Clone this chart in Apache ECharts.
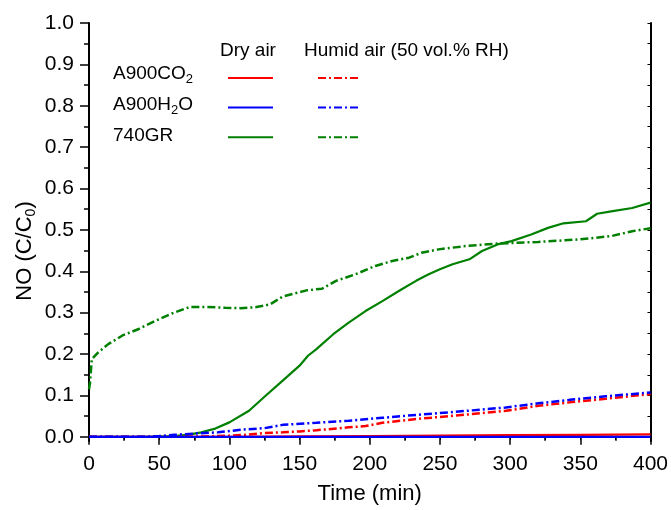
<!DOCTYPE html>
<html>
<head>
<meta charset="utf-8">
<script src="https://cdn.jsdelivr.net/npm/echarts@6/dist/echarts.min.js"></script>
<style>
  html, body { margin: 0; padding: 0; background: #fff; }
  #chart { width: 671px; height: 510px; }
</style>
</head>
<body>
<div id="chart"></div>
<script>
// 数据：时间 (min) 和 NO (C/C0)
var greenDryT = [0, 40, 60, 70, 80, 90, 100, 114, 126, 138, 150, 156, 162, 174, 185, 197, 209, 221, 233, 242, 250, 259, 271, 280, 291, 301, 315, 327, 338, 354, 362, 372, 387, 400];
var greenDryV = [0, 0, 0.002, 0.005, 0.011, 0.02, 0.035, 0.063, 0.100, 0.136, 0.172, 0.196, 0.212, 0.248, 0.276, 0.304, 0.328, 0.353, 0.377, 0.393, 0.405, 0.417, 0.429, 0.449, 0.465, 0.473, 0.489, 0.505, 0.516, 0.521, 0.539, 0.545, 0.553, 0.566];

var greenHumidT = [0, 0.7, 2, 6.6, 13.7, 24.4, 35, 47, 59, 72, 82, 97, 108, 118, 123, 129, 138, 155, 166, 176, 190, 204, 216, 228, 237, 249, 268, 291, 320, 349, 372, 387, 400];
var greenHumidV = [0.115, 0.13, 0.188, 0.204, 0.224, 0.246, 0.260, 0.280, 0.298, 0.314, 0.314, 0.312, 0.311, 0.313, 0.316, 0.320, 0.339, 0.354, 0.358, 0.377, 0.393, 0.413, 0.425, 0.433, 0.445, 0.453, 0.461, 0.467, 0.471, 0.477, 0.485, 0.497, 0.504];

var blueHumidT = [0, 40, 50, 61, 75, 92, 111, 125, 138, 162, 185, 209, 233, 256, 273, 297, 320, 344, 368, 396, 400];
var blueHumidV = [0, 0, 0.002, 0.005, 0.008, 0.011, 0.018, 0.021, 0.029, 0.034, 0.039, 0.046, 0.053, 0.059, 0.064, 0.071, 0.081, 0.090, 0.098, 0.106, 0.107];

var redHumidT = [0, 60, 80, 100, 112, 125, 138, 150, 162, 185, 197, 209, 233, 256, 273, 297, 320, 344, 368, 396, 400];
var redHumidV = [0, 0, 0.001, 0.003, 0.005, 0.009, 0.011, 0.013, 0.016, 0.023, 0.026, 0.034, 0.043, 0.050, 0.055, 0.063, 0.075, 0.084, 0.092, 0.102, 0.103];

var redDryT = [0, 100, 150, 200, 250, 300, 350, 400];
var redDryV = [0, 0, 0.001, 0.002, 0.003, 0.004, 0.005, 0.006];

var blueDryT = [0, 400];
var blueDryV = [0, 0];

var yLabels = [0, 0.1, 0.2, 0.3, 0.4, 0.5, 0.6, 0.7, 0.8, 0.9, 1.0];
var yMinor = [0.05, 0.15, 0.25, 0.35, 0.45, 0.55, 0.65, 0.75, 0.85, 0.95];
var yRight = yLabels.concat(yMinor);

function zip(t, v) {
  return t.map(function (x, i) { return [x, v[i]]; });
}

var FONT = "Liberation Sans";
var dashDot = [8, 3, 2, 3];

function mkLine(name, t, v, color, dashed) {
  return {
    name: name,
    type: "line",
    symbol: "none",
    data: zip(t, v),
    lineStyle: { color: color, width: dashed ? 2.5 : 2.2, type: dashed ? dashDot : "solid" },
    itemStyle: { color: color },
    z: 3
  };
}

var subRich = {
  a: { fontSize: 19, fontFamily: FONT, fill: "#000" },
  s: { fontSize: 13, fontFamily: FONT, fill: "#000", padding: [12, 0, 0, 0] }
};

var chart = echarts.init(document.getElementById("chart"));
var option = {
  animation: false,
  textStyle: { fontFamily: FONT, color: "#000" },
  grid: { left: 89, right: 19, top: 23, bottom: 68 },
  legend: [
    {
      data: ["A900CO2 dry", "A900H2O dry", "740GR dry"],
      orient: "vertical", left: 222, top: 66,
      itemWidth: 45, itemHeight: 14, itemGap: 17,
      itemStyle: { opacity: 0 },
      selectedMode: false, formatter: function () { return ""; },
      textStyle: { fontSize: 1 }
    },
    {
      data: ["A900CO2 humid", "A900H2O humid", "740GR humid"],
      orient: "vertical", left: 312, top: 66,
      itemWidth: 43, itemHeight: 14, itemGap: 17,
      itemStyle: { opacity: 0 },
      selectedMode: false, formatter: function () { return ""; },
      textStyle: { fontSize: 1 }
    }
  ],
  xAxis: [
    {
      type: "value", min: 0, max: 400, interval: 50,
      name: "Time (min)", nameLocation: "middle", nameGap: 42,
      nameTextStyle: { fontSize: 22, color: "#000", fontFamily: FONT },
      axisLine: { lineStyle: { color: "#000", width: 2 } },
      axisTick: { length: 8, lineStyle: { color: "#000", width: 1.5 } },
      minorTick: { show: true, splitNumber: 2, length: 4, lineStyle: { color: "#000", width: 1.5 } },
      axisLabel: { fontSize: 21, color: "#000", margin: 13, fontFamily: FONT },
      splitLine: { show: false }
    },
    {
      type: "value", position: "top", min: 0, max: 400, interval: 25,
      axisLine: { lineStyle: { color: "#000", width: 2 } },
      axisTick: { inside: true, length: 3, lineStyle: { color: "#000" } },
      axisLabel: { show: false },
      splitLine: { show: false }
    }
  ],
  yAxis: [
    {
      type: "value", min: -0.01, max: 1,
      axisLine: { lineStyle: { color: "#000", width: 2 } },
      axisTick: { length: 9, customValues: yLabels, lineStyle: { color: "#000", width: 1.5 } },
      axisLabel: {
        fontSize: 21, color: "#000", margin: 15, fontFamily: FONT,
        customValues: yLabels,
        formatter: function (v) { return v.toFixed(1); }
      },
      splitLine: { show: false }
    },
    {
      type: "value", position: "left", min: -0.01, max: 1,
      axisLine: { show: false },
      axisTick: { show: true, length: 5, customValues: yMinor, lineStyle: { color: "#000", width: 1.5 } },
      axisLabel: { show: false },
      splitLine: { show: false }
    },
    {
      type: "value", position: "right", min: -0.01, max: 1,
      axisLine: { show: true, lineStyle: { color: "#000", width: 2 } },
      axisTick: { show: true, inside: true, length: 3, customValues: yRight, lineStyle: { color: "#000" } },
      axisLabel: { show: false },
      splitLine: { show: false }
    }
  ],
  graphic: [
    // y 轴标题
    { type: "text", x: 25, y: 251, rotation: Math.PI / 2, style: {
        text: "{a|NO (C/C}{s|0}{a|)}", align: "center", verticalAlign: "middle",
        rich: {
          a: { fontSize: 22, fontFamily: FONT, fill: "#000" },
          s: { fontSize: 14, fontFamily: FONT, fill: "#000", padding: [13, 0, 0, 0] }
        }
      } },
    { type: "text", left: 220, top: 41, style: { text: "Dry air", fontSize: 19, fontFamily: FONT, fill: "#000" } },
    { type: "text", left: 304, top: 41, style: { text: "Humid air (50 vol.% RH)", fontSize: 19, fontFamily: FONT, fill: "#000" } },
    { type: "text", left: 113, top: 64, style: { text: "{a|A900CO}{s|2}", rich: subRich } },
    { type: "text", left: 113, top: 95, style: { text: "{a|A900H}{s|2}{a|O}", rich: subRich } },
    { type: "text", left: 113, top: 126, style: { text: "740GR", fontSize: 19, fontFamily: FONT, fill: "#000" } }
  ],
  series: [
    mkLine("740GR dry", greenDryT, greenDryV, "#008000", false),
    mkLine("740GR humid", greenHumidT, greenHumidV, "#008000", true),
    mkLine("A900CO2 dry", redDryT, redDryV, "#ff0000", false),
    mkLine("A900CO2 humid", redHumidT, redHumidV, "#ff0000", true),
    mkLine("A900H2O dry", blueDryT, blueDryV, "#0000ff", false),
    mkLine("A900H2O humid", blueHumidT, blueHumidV, "#0000ff", true)
  ]
};
chart.setOption(option);
</script>
</body>
</html>
